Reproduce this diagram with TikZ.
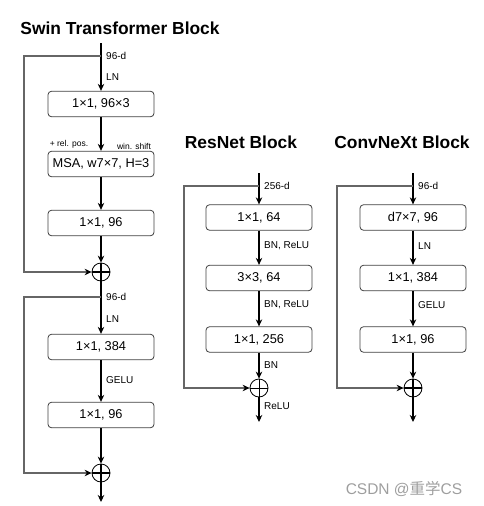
\documentclass[tikz,border=0pt]{standalone}
\usepackage{fontspec}
\setmainfont{Liberation Sans}
\newfontfamily\cjkfont{Noto Sans CJK SC}
\usetikzlibrary{arrows.meta}

\begin{document}
\begin{tikzpicture}[x=1pt,y=-1pt]
	\tikzstyle{blk} = [draw=black!75, line width=0.8pt, rounded corners=3.5pt, minimum width=106pt, minimum height=25.5pt, inner sep=0pt, font=\fontsize{12.8}{14}\selectfont]
	\tikzstyle{lbl} = [anchor=west, inner sep=0pt, font=\fontsize{10}{12}\selectfont]
	\tikzstyle{tiny} = [inner sep=0pt, font=\fontsize{8.5}{10}\selectfont]
	\tikzstyle{ttl} = [inner sep=0pt, font=\bfseries\fontsize{17.4}{20}\selectfont]
	\tikzstyle{flow} = [line width=1.1pt, -{Stealth[length=7pt,width=6.5pt]}]
	\tikzstyle{skip} = [draw=black!60, line width=1.1pt, -{Stealth[length=7pt,width=6.5pt,color=black]}]
	\tikzstyle{sum} = [draw, circle, line width=0.8pt, minimum size=18pt, inner sep=0pt,
		path picture={\draw[line width=1.8pt] (path picture bounding box.north) -- (path picture bounding box.south)
			(path picture bounding box.west) -- (path picture bounding box.east);}]
	\tikzstyle{sumthin} = [draw, circle, line width=0.8pt, minimum size=18pt, inner sep=0pt,
		path picture={\draw[line width=0.7pt] (path picture bounding box.north) -- (path picture bounding box.south)
			(path picture bounding box.west) -- (path picture bounding box.east);}]

	\useasboundingbox (0,0) rectangle (484,506);

	% Swin Transformer
	\node[ttl] (swin) at (120,28) {Swin Transformer Block};
	\coordinate (s-in) at (101,43);
	\coordinate (s-br) at (101,56);
	\node[blk] (s-qkv) at (101,104) {1×1, 96×3};
	\node[blk] (s-msa) at (101,164) {MSA, w7×7, H=3};
	\node[blk] (s-proj) at (101,223) {1×1, 96};
	\node[sum] (s-add) at (101,272) {};
	\coordinate (s-br2) at (101,297);
	\node[blk] (s-fc1) at (101,347) {1×1, 384};
	\node[blk] (s-fc2) at (101,415) {1×1, 96};
	\node[sum] (s-add2) at (101,473) {};
	\coordinate (s-out) at (101,502);

	\node[lbl] (s-dim) at (106,56) {96-d};
	\node[lbl] (s-ln) at (106,77) {LN};
	\node[tiny] (s-rel) at (69,144) {+ rel. pos.};
	\node[tiny] (s-win) at (134,146) {win. shift};
	\node[lbl] (s-dim2) at (106,297) {96-d};
	\node[lbl] (s-ln2) at (106,319) {LN};
	\node[lbl] (s-gelu) at (106,380) {GELU};

	\draw[flow] (s-in) -- (s-qkv);
	\draw[flow] (s-qkv) -- (s-msa);
	\draw[flow] (s-msa) -- (s-proj);
	\draw[flow] (s-proj) -- (s-add);
	\draw[flow] (s-add) -- (s-fc1);
	\draw[flow] (s-fc1) -- (s-fc2);
	\draw[flow] (s-fc2) -- (s-add2);
	\draw[flow] (s-add2) -- (s-out);
	\draw[skip] (s-br) -- ++(-77,0) |- (s-add);
	\draw[skip] (s-br2) -- ++(-77,0) |- (s-add2);

	% ResNet
	\node[ttl] (res) at (241,142) {ResNet Block};
	\coordinate (r-in) at (259,173);
	\coordinate (r-br) at (259,186);
	\node[blk] (r-c1) at (259,217.5) {1×1, 64};
	\node[blk] (r-c2) at (259,278) {3×3, 64};
	\node[blk] (r-c3) at (259,339.5) {1×1, 256};
	\node[sumthin] (r-add) at (259,388) {};
	\coordinate (r-out) at (259,422);

	\node[lbl] (r-dim) at (264,186) {256-d};
	\node[lbl] (r-bn1) at (264,246) {BN, ReLU};
	\node[lbl] (r-bn2) at (264,305) {BN, ReLU};
	\node[lbl] (r-bn3) at (264,365) {BN};
	\node[lbl] (r-relu) at (264,406) {ReLU};

	\draw[flow] (r-in) -- (r-c1);
	\draw[flow] (r-c1) -- (r-c2);
	\draw[flow] (r-c2) -- (r-c3);
	\draw[flow] (r-c3) -- (r-add);
	\draw[flow] (r-add) -- (r-out);
	\draw[skip] (r-br) -- ++(-75,0) |- (r-add);

	% ConvNeXt
	\node[ttl] (cnx) at (402,142) {ConvNeXt Block};
	\coordinate (c-in) at (413,173);
	\coordinate (c-br) at (413,186);
	\node[blk] (c-dw) at (413,217.5) {d7×7, 96};
	\node[blk] (c-fc1) at (413,278) {1×1, 384};
	\node[blk] (c-fc2) at (413,339.5) {1×1, 96};
	\node[sum] (c-add) at (413,388) {};
	\coordinate (c-out) at (413,422);

	\node[lbl] (c-dim) at (418,186) {96-d};
	\node[lbl] (c-ln) at (418,246) {LN};
	\node[lbl] (c-gelu) at (418,305) {GELU};

	\draw[flow] (c-in) -- (c-dw);
	\draw[flow] (c-dw) -- (c-fc1);
	\draw[flow] (c-fc1) -- (c-fc2);
	\draw[flow] (c-fc2) -- (c-add);
	\draw[flow] (c-add) -- (c-out);
	\draw[skip] (c-br) -- ++(-76,0) |- (c-add);

	% watermark
	\node[text=black!38, inner sep=0pt, font=\fontsize{15.5}{17}\selectfont] (mark) at (404,489) {CSDN @{\cjkfont 重学}CS};
\end{tikzpicture}
\end{document}
